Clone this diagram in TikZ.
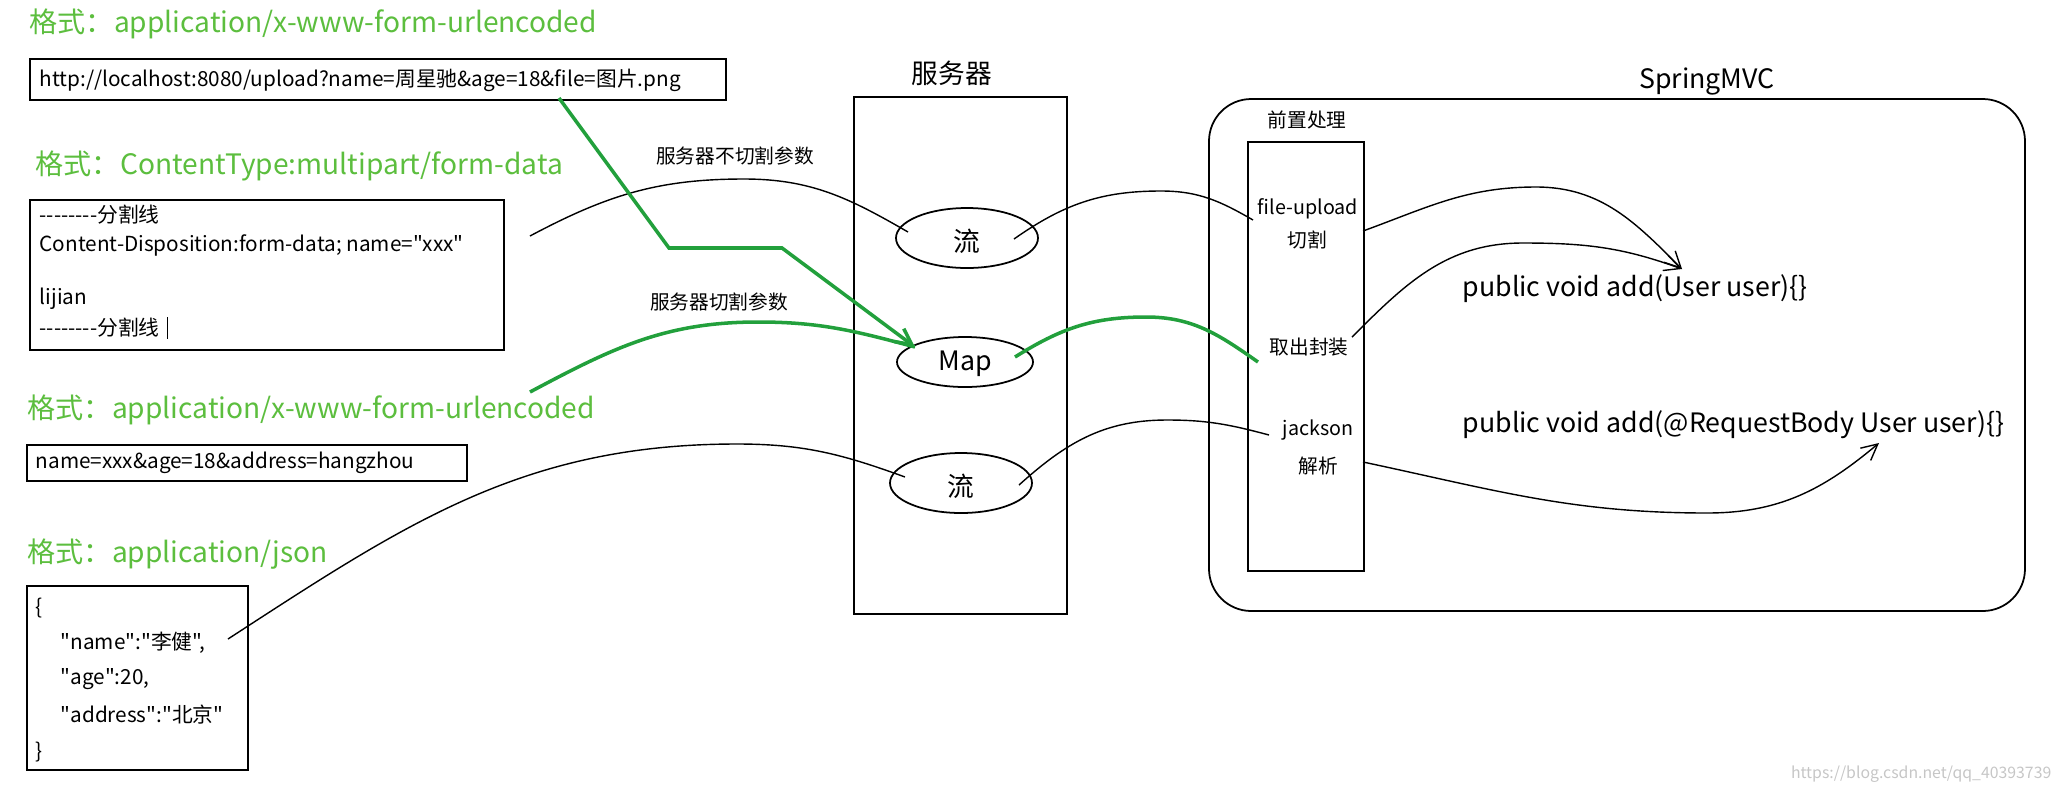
\documentclass[tikz,border=0pt]{standalone}
\usepackage{fontspec}
\setmainfont{Noto Sans CJK SC}[Ligatures=TeXOff]
\usetikzlibrary{arrows.meta}
\definecolor{hgreen}{RGB}{92,190,62}
\definecolor{lgreen}{RGB}{34,160,60}
\tikzset{
  head/.style={anchor=west,text=hgreen,inner sep=0pt,font=\fontsize{8pt}{9pt}\selectfont},
  btxt/.style={anchor=west,inner sep=0pt,font=\fontsize{5.9pt}{7pt}\selectfont},
  box/.style={draw,line width=0.5pt,inner sep=0pt},
  lbl/.style={inner sep=0pt,font=\fontsize{5.6pt}{7pt}\selectfont},
  big/.style={inner sep=0pt,font=\fontsize{7.6pt}{9pt}\selectfont},
  conn/.style={line width=0.4pt},
  gconn/.style={line width=1pt,draw=lgreen},
  tip/.style={-{Straight Barb[length=0.16cm,width=0.16cm]}}
}
\begin{document}
\begin{tikzpicture}[x=0.01cm,y=-0.01cm]
\useasboundingbox (0,0) rectangle (2062,784);
% headings
\node[head] (h1) at (29,24) {格式：application/x-www-form-urlencoded};
\node[head] (h2) at (35,166) {格式：ContentType:multipart/form-data};
\node[head] (h3) at (27,410) {格式：application/x-www-form-urlencoded};
\node[head] (h4) at (27,554) {格式：application/json};
% boxes
\draw[box] (30,59) rectangle (726,100);
\node[btxt] (t1) at (39,80) {http://localhost:8080/upload?name=周星驰\&age=18\&file=图片.png};
\draw[box] (30,200) rectangle (504,350);
\node[btxt] (t2a) at (39,215) {--------分割线};
\node[btxt] (t2b) at (39,245) {Content-Disposition:form-data; name="xxx"};
\node[btxt] (t2c) at (39,299) {lijian};
\node[btxt] (t2d) at (39,328) {--------分割线};
\draw ([xshift=2]t2d.east) ++(0,-11) -- ++(0,22);
\draw[box] (27,445) rectangle (467,481);
\node[btxt] (t3) at (35,463) {name=xxx\&age=18\&address=hangzhou};
\draw[box] (27,586) rectangle (248,770);
\node[btxt] (j1) at (35,608) {\{};
\node[btxt] (j2) at (60,643) {"name":"李健",};
\node[btxt] (j3) at (60,679) {"age":20,};
\node[btxt] (j4) at (60,715) {"address":"北京"};
\node[btxt] (j5) at (35,752) {\}};
% server
\node[big] (srvl) at (952,73) {服务器};
\draw[box] (854,97) rectangle (1067,614);
\draw[line width=0.5pt] (967,238) ellipse [x radius=71,y radius=30];
\draw[line width=0.5pt] (965,362) ellipse [x radius=68,y radius=25];
\draw[line width=0.5pt] (961,483) ellipse [x radius=71,y radius=30];
\node[big] (e1) at (967,241) {流};
\node[big] (e2) at (965,364) {Map};
\node[big] (e3) at (961,486) {流};
\node[lbl] (l1) at (735,156) {服务器不切割参数};
\node[lbl] (l2) at (719,302) {服务器切割参数};
% springmvc
\node[big] (sl) at (1707,81) {SpringMVC};
\draw[line width=0.5pt,rounded corners=12] (1209,99) rectangle (2025,611);
\node[lbl] (pre) at (1307,120) {前置处理};
\draw[box] (1248,142) rectangle (1364,571);
\node[lbl] (fu) at (1308,209) {file-upload};
\node[lbl] (qg) at (1307,240) {切割};
\node[lbl] (qc) at (1309,347) {取出封装};
\node[lbl] (jk) at (1318,430) {jackson};
\node[lbl] (jx) at (1318,466) {解析};
\node[big,anchor=west] (m1) at (1462,289) {public void add(User user)\{\}};
\node[big,anchor=west] (m2) at (1462,425) {public void add(@RequestBody User user)\{\}};
\node[text=gray!45,inner sep=0pt,font=\fontsize{4.5pt}{5pt}\selectfont,anchor=east] (wm) at (2052,774) {https://blog.csdn.net/qq\_40393739};
% connectors
\coordinate (a0) at (530,236); \coordinate (a1) at (744,179); \coordinate (a2) at (908,232);
\draw[conn] (a0) to[out=28,in=180] (a1) to[out=0,in=150] (a2);
\coordinate (g0) at (530,392); \coordinate (g1) at (758,322); \coordinate (g2) at (915,347);
\draw[gconn] (g0) to[out=28,in=180] (g1) to[out=0,in=165] (g2);
\coordinate (p0) at (559,98); \coordinate (p1) at (669,248); \coordinate (p2) at (782,248);
\draw[gconn,tip] (p0) -- (p1) -- (p2) -- (g2);
\coordinate (b0) at (228,639); \coordinate (b1) at (737,444); \coordinate (b2) at (905,477);
\draw[conn] (b0) to[out=33,in=180] (b1) to[out=0,in=160] (b2);
\coordinate (c0) at (1014,239); \coordinate (c1) at (1161,191); \coordinate (c2) at (1253,220);
\draw[conn] (c0) to[out=35,in=180] (c1) to[out=0,in=150] (c2);
\coordinate (d0) at (1015,357); \coordinate (d1) at (1146,317); \coordinate (d2) at (1258,362);
\draw[gconn] (d0) to[out=32,in=180] (d1) to[out=0,in=145] (d2);
\coordinate (f0) at (1019,485); \coordinate (f1) at (1167,420); \coordinate (f2) at (1269,435);
\draw[conn] (f0) to[out=42,in=180] (f1) to[out=0,in=165] (f2);
\coordinate (k0) at (1363,231); \coordinate (k1) at (1536,187); \coordinate (k2) at (1682,269);
\draw[conn,tip] (k0) to[out=20,in=180] (k1) to[out=0,in=135] (k2);
\coordinate (q0) at (1352,337); \coordinate (q1) at (1523,243);
\draw[conn,tip] (q0) to[out=45,in=180] (q1) to[out=0,in=160] (k2);
\coordinate (r0) at (1363,462); \coordinate (r1) at (1707,513); \coordinate (r2) at (1879,443);
\draw[conn,tip] (r0) to[out=-12,in=180] (r1) to[out=0,in=220] (r2);
\end{tikzpicture}
\end{document}
